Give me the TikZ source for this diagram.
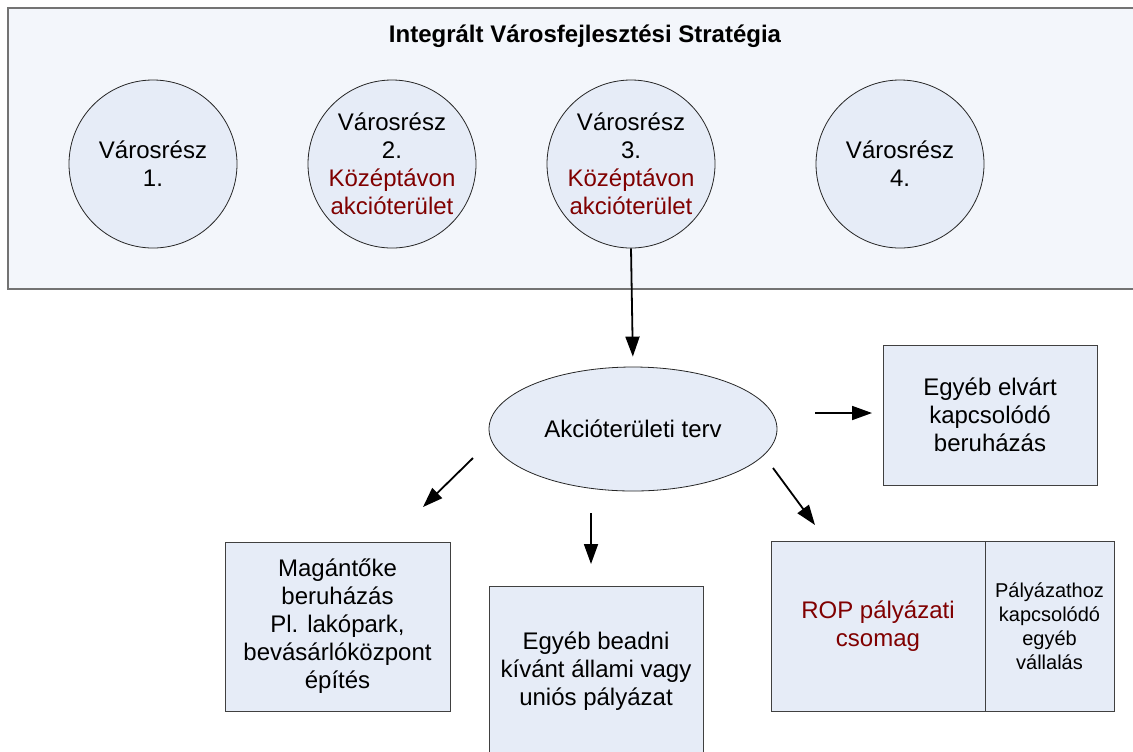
\documentclass[tikz,border=0pt]{standalone}
\usepackage{fontspec}
\setmainfont{Liberation Sans}
\usetikzlibrary{arrows.meta,shapes.geometric}

\definecolor{boxfill}{RGB}{230,236,247}
\definecolor{panelfill}{RGB}{243,246,251}
\definecolor{akciored}{RGB}{128,0,0}

\begin{document}
\begin{tikzpicture}[x=0.5pt,y=-0.5pt,
    kor/.style={circle,draw=black!85,fill=boxfill,minimum size=84pt,inner sep=0pt,
      align=center,font=\fontsize{12}{14}\selectfont},
    doboz/.style={rectangle,draw=black!75,fill=boxfill,inner sep=1pt,
      align=center,font=\fontsize{12}{14}\selectfont},
    nyil/.style={-{Triangle[length=10pt,width=7pt]},line width=0.9pt}]

  \useasboundingbox (0,0) rectangle (1133,751);

  %% keret
  \draw[draw=black!55,line width=0.8pt,fill=panelfill] (8,8) rectangle (1145,289);
  \node[font=\bfseries\fontsize{12}{14}\selectfont] (cim) at (585,36) {Integrált Városfejlesztési Stratégia};

  \node[kor] (k1) at (153,164) {Városrész\\1.};
  \node[kor] (k2) at (392,164) {Városrész\\2.\\\textcolor{akciored}{Középtávon}\\\textcolor{akciored}{akcióterület}};
  \node[kor] (k3) at (631,164) {Városrész\\3.\\\textcolor{akciored}{Középtávon}\\\textcolor{akciored}{akcióterület}};
  \node[kor] (k4) at (900,164) {Városrész\\4.};

  \node[ellipse,draw=black!85,fill=boxfill,minimum width=144pt,minimum height=62pt,
    font=\fontsize{12}{14}\selectfont] (terv) at (633,429) {Akcióterületi terv};

  \node[doboz,minimum width=107pt,minimum height=70pt] (elvart) at (990,415)
    {Egyéb elvárt\\kapcsolódó\\beruházás};
  \node[doboz,minimum width=112.5pt,minimum height=84.5pt] (magan) at (337.5,626.5)
    {Magántőke\\beruházás\\Pl. lakópark,\\bevásárlóközpont\\építés};
  \node[doboz,minimum width=107pt,minimum height=85pt] (beadni) at (596,671)
    {Egyéb beadni\\kívánt állami vagy\\uniós pályázat};
  \node[doboz,minimum width=107pt,minimum height=85pt,text=akciored] (rop) at (878,626)
    {ROP pályázati\\csomag};
  \node[doboz,minimum width=64.5pt,minimum height=85pt,
    font=\fontsize{10}{12}\selectfont] (vallalas) at (1049.5,626)
    {Pályázathoz\\kapcsolódó\\egyéb\\vállalás};

  \coordinate (bal1) at (473,458);
  \coordinate (bal2) at (423,507);
  \coordinate (kozep1) at (591,513);
  \coordinate (kozep2) at (591,564);
  \coordinate (jobb1) at (773,468);
  \coordinate (jobb2) at (815,525);
  \coordinate (vizsz1) at (815,413);
  \coordinate (vizsz2) at (872,413);

  \draw[nyil,shorten >=5pt] (k3.south) -- (terv.north); %% 3 -> terv
  \draw[nyil] (bal1) -- (bal2);
  \draw[nyil] (kozep1) -- (kozep2);
  \draw[nyil] (jobb1) -- (jobb2);
  \draw[nyil] (vizsz1) -- (vizsz2);
\end{tikzpicture}
\end{document}
